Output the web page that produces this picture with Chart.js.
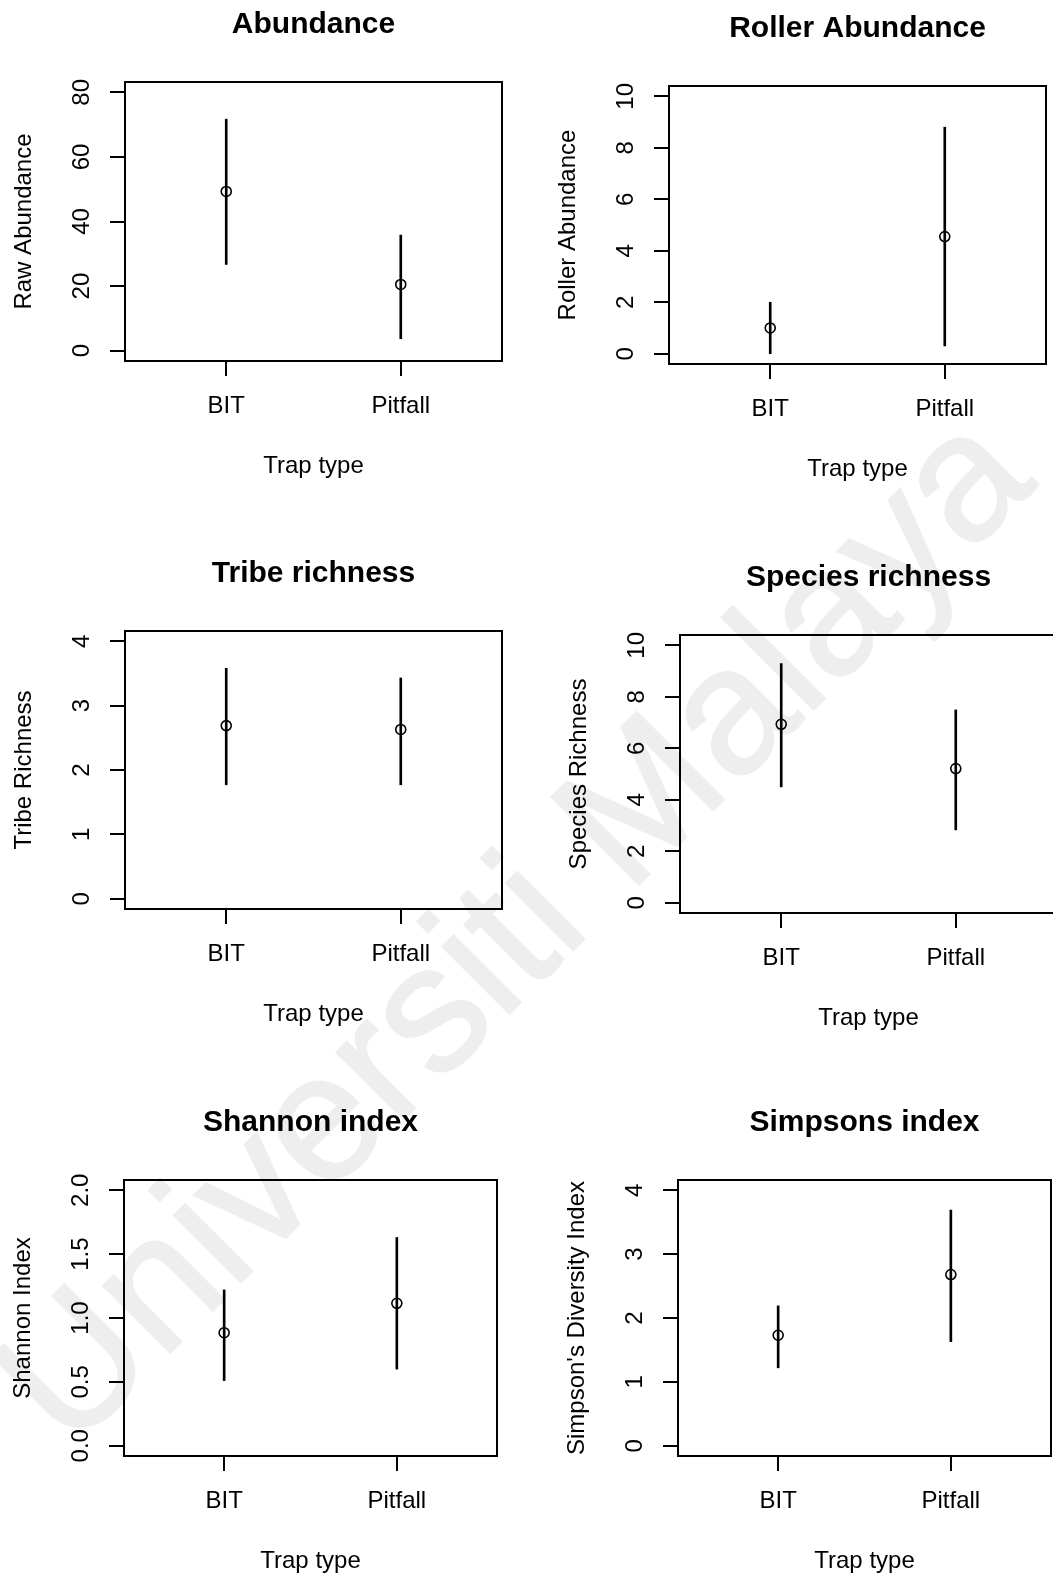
<!DOCTYPE html>
<html>
<head>
<meta charset="utf-8">
<title>Trap type comparison</title>
<script src="https://cdn.jsdelivr.net/npm/chart.js@4.4.1/dist/chart.umd.min.js"></script>
<style>
  html, body { margin: 0; padding: 0; background: #fff; }
  body {
    position: relative;
    width: 1053px;
    height: 1575px;
    overflow: hidden;
    font-family: "Liberation Sans", Arial, sans-serif;
  }
  .watermark {
    position: absolute;
    left: 510px;
    top: 925px;
    transform: translate(-50%, -50%) rotate(-45deg);
    font-size: 180px;
    color: #eeeeee;
    -webkit-text-stroke: 2px #eeeeee;
    white-space: nowrap;
    z-index: 0;
  }
  canvas { position: absolute; z-index: 1; }
</style>
</head>
<body>
<div class="watermark">Universiti Malaya</div>
<script>
// categories shared by every panel
const trapTypes = ['BIT', 'Pitfall'];
const xAxisTitle = 'Trap type';

// mean and confidence limits per trap type
const abundanceMean = [49.3, 20.5];
const abundanceLow  = [26.7, 3.7];
const abundanceHigh = [71.7, 35.8];
const abundanceTicks = [0, 20, 40, 60, 80];

const rollerMean = [1.0, 4.55];
const rollerLow  = [0.0, 0.3];
const rollerHigh = [2.0, 8.8];
const rollerTicks = [0, 2, 4, 6, 8, 10];

const tribeMean = [2.69, 2.63];
const tribeLow  = [1.77, 1.77];
const tribeHigh = [3.58, 3.43];
const tribeTicks = [0, 1, 2, 3, 4];

const speciesMean = [6.93, 5.21];
const speciesLow  = [4.5, 2.83];
const speciesHigh = [9.29, 7.49];
const speciesTicks = [0, 2, 4, 6, 8, 10];

const shannonMean = [0.885, 1.115];
const shannonLow  = [0.51, 0.6];
const shannonHigh = [1.22, 1.63];
const shannonTicks = [0, 0.5, 1.0, 1.5, 2.0];

const simpsonMean = [1.73, 2.68];
const simpsonLow  = [1.22, 1.63];
const simpsonHigh = [2.19, 3.69];
const simpsonTicks = [0, 1, 2, 3, 4];

const panels = [
    { title: 'Abundance', ylab: 'Raw Abundance', mean: abundanceMean, low: abundanceLow, high: abundanceHigh, ticks: abundanceTicks, digits: 0 },
    { title: 'Roller Abundance', ylab: 'Roller Abundance', mean: rollerMean, low: rollerLow, high: rollerHigh, ticks: rollerTicks, digits: 0 },
    { title: 'Tribe richness', ylab: 'Tribe Richness', mean: tribeMean, low: tribeLow, high: tribeHigh, ticks: tribeTicks, digits: 0 },
    { title: 'Species richness', ylab: 'Species Richness', mean: speciesMean, low: speciesLow, high: speciesHigh, ticks: speciesTicks, digits: 0 },
    { title: 'Shannon index', ylab: 'Shannon Index', mean: shannonMean, low: shannonLow, high: shannonHigh, ticks: shannonTicks, digits: 1 },
    { title: 'Simpsons index', ylab: "Simpson's Diversity Index", mean: simpsonMean, low: simpsonLow, high: simpsonHigh, ticks: simpsonTicks, digits: 0 }
];

// plot box of each panel on the page: left, top, right, bottom
const plotBoxes = [
    [125, 82, 502, 361],
    [669, 86, 1046, 364],
    [125, 631, 502, 909],
    [680, 635, 1057, 913],
    [124, 1180, 497, 1456],
    [678, 1180, 1051, 1456]
];

const PAD = { left: 125, top: 82, right: 20, bottom: 125 };
const FONT = '"Liberation Sans", Arial, sans-serif';

// base-graphics look: box, outward ticks, rotated y labels, titles
function baseAxes(p) {
    return {
        id: 'baseAxes',
        afterDraw(chart) {
            const ctx = chart.ctx;
            const { left, top, right, bottom } = chart.chartArea;
            const xs = chart.scales.x;
            const ys = chart.scales.y;

            ctx.save();
            ctx.strokeStyle = '#000';
            ctx.lineWidth = 2;
            ctx.strokeRect(left, top, right - left, bottom - top);

            ctx.beginPath();
            p.ticks.forEach(v => {
                const y = Math.round(ys.getPixelForValue(v));
                ctx.moveTo(left - 15, y);
                ctx.lineTo(left, y);
            });
            trapTypes.forEach((_, i) => {
                const x = Math.round(xs.getPixelForValue(i + 1));
                ctx.moveTo(x, bottom);
                ctx.lineTo(x, bottom + 15);
            });
            ctx.stroke();

            ctx.fillStyle = '#000';
            ctx.textAlign = 'center';
            ctx.textBaseline = 'middle';
            ctx.font = '24px ' + FONT;

            p.ticks.forEach(v => {
                ctx.save();
                ctx.translate(left - 43, ys.getPixelForValue(v));
                ctx.rotate(-Math.PI / 2);
                ctx.fillText(v.toFixed(p.digits), 0, 0);
                ctx.restore();
            });

            trapTypes.forEach((name, i) => {
                ctx.fillText(name, xs.getPixelForValue(i + 1), bottom + 45);
            });
            ctx.fillText(xAxisTitle, (left + right) / 2, bottom + 105);

            ctx.save();
            ctx.translate(left - 101, (top + bottom) / 2);
            ctx.rotate(-Math.PI / 2);
            ctx.fillText(p.ylab, 0, 0);
            ctx.restore();

            ctx.font = 'bold 30px ' + FONT;
            ctx.fillText(p.title, (left + right) / 2, top - 57);
            ctx.restore();
        }
    };
}

function makePanel(p, box) {
    const [l, t, r, b] = box;
    const w = r - l + PAD.left + PAD.right;
    const h = b - t + PAD.top + PAD.bottom;

    const canvas = document.createElement('canvas');
    canvas.width = w;
    canvas.height = h;
    canvas.style.width = w + 'px';
    canvas.style.height = h + 'px';
    canvas.style.left = (l - PAD.left) + 'px';
    canvas.style.top = (t - PAD.top) + 'px';
    document.body.appendChild(canvas);

    const yMin = p.ticks[0];
    const yMax = p.ticks[p.ticks.length - 1];
    const ext = (yMax - yMin) * 0.04;

    return new Chart(canvas, {
        type: 'scatter',
        data: {
            datasets: [{
                // means as open circles
                data: trapTypes.map((_, i) => ({ x: i + 1, y: p.mean[i] })),
                showLine: false,
                pointStyle: 'circle',
                pointRadius: 5,
                pointHoverRadius: 5,
                pointBorderWidth: 1.6,
                pointBorderColor: '#000',
                pointBackgroundColor: 'rgba(0,0,0,0)'
            }, {
                // confidence interval as a thin floating bar
                type: 'bar',
                data: trapTypes.map((_, i) => ({ x: i + 1, y: [p.low[i], p.high[i]] })),
                barThickness: 2,
                backgroundColor: '#000',
                borderWidth: 0
            }]
        },
        options: {
            responsive: false,
            animation: false,
            devicePixelRatio: 1,
            layout: { padding: PAD },
            plugins: {
                legend: { display: false },
                tooltip: { enabled: false },
                title: { display: false }
            },
            scales: {
                x: { type: 'linear', min: 0.42, max: 2.58, offset: false, display: false },
                y: { type: 'linear', min: yMin - ext, max: yMax + ext, display: false }
            }
        },
        plugins: [baseAxes(p)]
    });
}

panels.forEach((p, i) => makePanel(p, plotBoxes[i]));
</script>
</body>
</html>
